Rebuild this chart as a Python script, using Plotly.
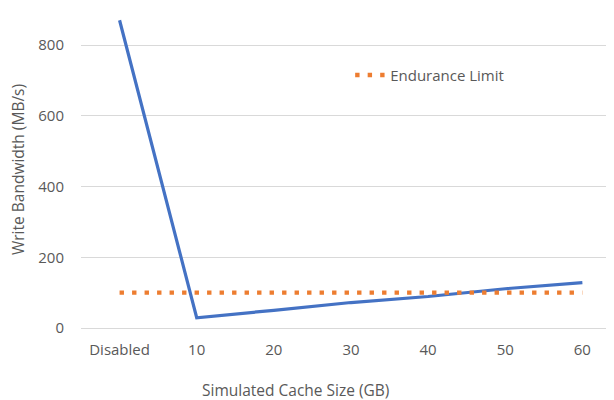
import plotly.graph_objects as go

categories = ["Disabled", "10", "20", "30", "40", "50", "60"]
bandwidth = [870, 29, 50, 72, 89, 111, 128]
endurance = [100, 100, 100, 100, 100, 100, 100]
y_ticks = [0, 200, 400, 600, 800]

x = list(range(len(categories)))
font = "Open Sans"
grey = "#595959"

fig = go.Figure()
fig.add_trace(go.Scatter(x=x, y=bandwidth, mode="lines", name="Write Bandwidth",
                         line=dict(color="#4472C4", width=3.2), showlegend=False))
fig.add_trace(go.Scatter(x=x, y=endurance, mode="lines", name="Endurance Limit",
                         line=dict(color="#ED7D31", width=4.4, dash="4.4px,8.1px")))

fig.update_layout(
    width=606, height=392,
    margin=dict(l=73, r=0, t=0, b=72, autoexpand=False),
    paper_bgcolor="white", plot_bgcolor="white",
    font=dict(family=font, size=15, color=grey),
    legend=dict(x=0.505, y=0.79, xanchor="left", yanchor="middle",
                bgcolor="rgba(0,0,0,0)", font=dict(size=15, color=grey)),
    xaxis=dict(range=[-0.5, 6.41], tickvals=x, ticktext=categories,
               showgrid=False, zeroline=False, showline=False,
               ticks="", automargin=False, tickfont=dict(size=15),
               ticklabelstandoff=11),
    yaxis=dict(range=[0, 904.6], tickvals=y_ticks, showgrid=True,
               gridcolor="#D9D9D9", gridwidth=1, zeroline=True,
               zerolinecolor="#D9D9D9", zerolinewidth=1,
               ticks="", showline=False, automargin=False,
               tickfont=dict(size=15), ticklabelstandoff=16),
    annotations=[
        dict(text="Simulated Cache Size (GB)", xref="paper", yref="paper",
             x=0.403, y=-0.194, xanchor="center", yanchor="middle",
             showarrow=False, font=dict(size=15.5, color=grey)),
        dict(text="Write Bandwidth (MB/s)", xref="paper", yref="paper",
             x=-0.118, y=0.494, xanchor="center", yanchor="middle",
             textangle=-90, showarrow=False, font=dict(size=15.5, color=grey)),
    ],
)
fig.write_html("out.html")
